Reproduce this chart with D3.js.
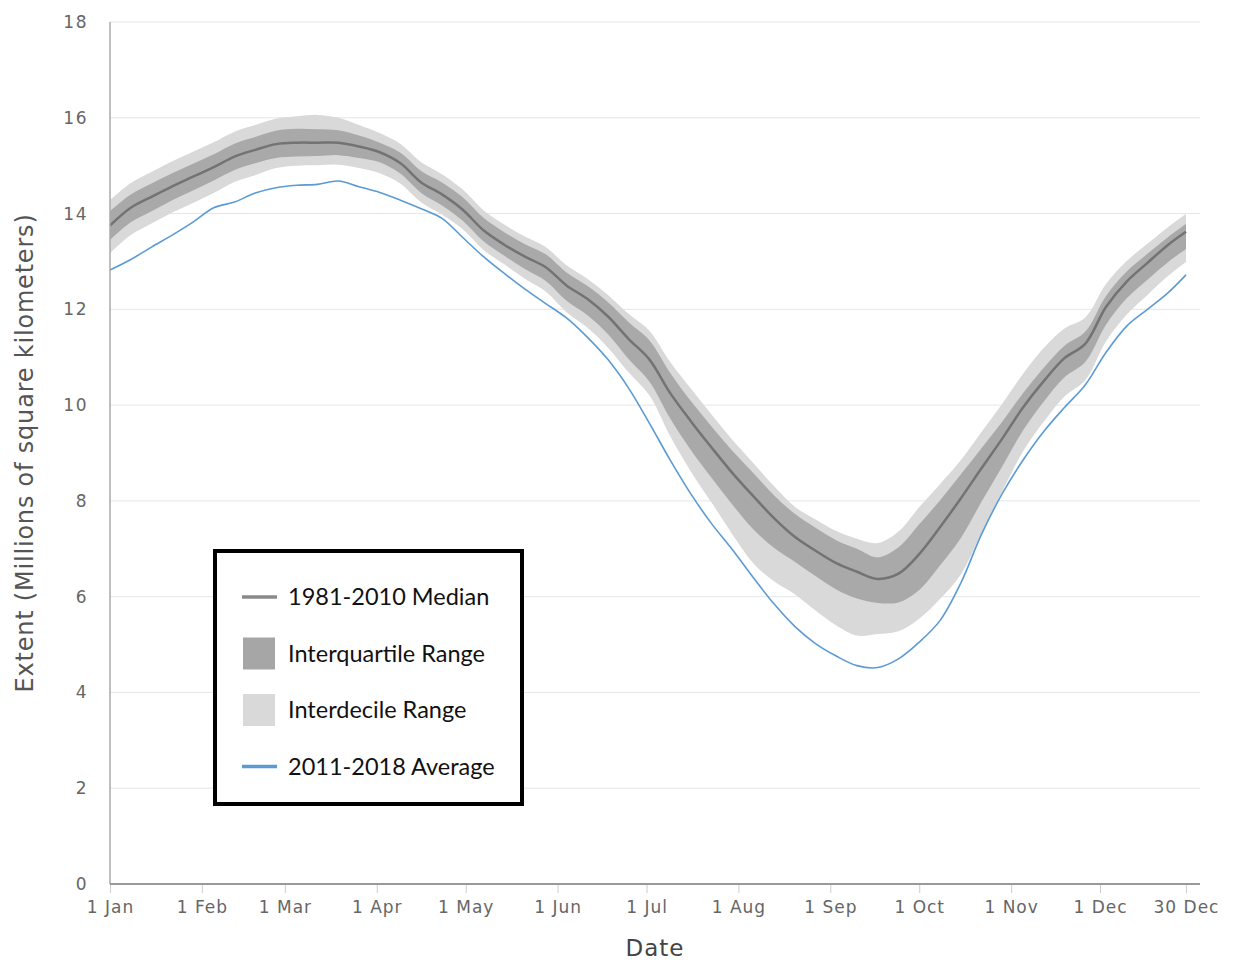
<!DOCTYPE html>
<html>
<head>
<meta charset="utf-8">
<script src="https://cdn.jsdelivr.net/npm/d3@7"></script>
<style>
  body { margin: 0; background: #fff; }
  svg { display: block; }
</style>
</head>
<body>
<svg id="chart" width="1235" height="962"></svg>
<script>
// day of year for each sample
const days = [1, 8, 15, 22, 29, 36, 43, 50, 57, 64, 71, 78, 85, 92, 99, 106, 113, 120, 127, 134,
  141, 148, 155, 162, 169, 176, 183, 190, 197, 204, 211, 218, 225, 232, 239, 246, 253, 260, 267,
  274, 281, 288, 295, 302, 309, 316, 323, 330, 337, 344, 351, 358, 364];

const median = [13.75, 14.12, 14.35, 14.57, 14.77, 14.97, 15.19, 15.33, 15.45, 15.48, 15.48, 15.48,
  15.40, 15.28, 15.05, 14.65, 14.40, 14.08, 13.65, 13.35, 13.10, 12.88, 12.50, 12.22, 11.85, 11.38,
  10.95, 10.25, 9.66, 9.11, 8.58, 8.10, 7.64, 7.25, 6.96, 6.70, 6.52, 6.37, 6.48, 6.89, 7.45, 8.05,
  8.68, 9.30, 9.95, 10.50, 10.98, 11.28, 12.05, 12.58, 12.97, 13.35, 13.62];

const q75 = [14.05, 14.40, 14.63, 14.84, 15.04, 15.24, 15.46, 15.60, 15.73, 15.77, 15.76, 15.74,
  15.63, 15.48, 15.27, 14.89, 14.65, 14.34, 13.91, 13.61, 13.36, 13.15, 12.77, 12.49, 12.15, 11.73,
  11.35, 10.67, 10.08, 9.55, 9.04, 8.58, 8.12, 7.73, 7.44, 7.18, 7.00, 6.82, 7.03, 7.51, 8.01, 8.55,
  9.10, 9.65, 10.25, 10.78, 11.24, 11.53, 12.28, 12.79, 13.16, 13.51, 13.78];

const q25 = [13.45, 13.82, 14.05, 14.28, 14.48, 14.69, 14.91, 15.05, 15.16, 15.19, 15.20, 15.22,
  15.16, 15.07, 14.83, 14.43, 14.17, 13.85, 13.42, 13.12, 12.84, 12.59, 12.18, 11.88, 11.48, 10.96,
  10.49, 9.72, 9.06, 8.48, 7.92, 7.41, 7.02, 6.73, 6.43, 6.15, 5.96, 5.87, 5.88, 6.14, 6.65, 7.22,
  7.98, 8.72, 9.47, 10.07, 10.58, 10.90, 11.68, 12.23, 12.62, 12.99, 13.26];

const d90 = [14.28, 14.64, 14.87, 15.09, 15.29, 15.49, 15.71, 15.85, 15.98, 16.03, 16.06, 16.00,
  15.85, 15.68, 15.45, 15.07, 14.82, 14.50, 14.07, 13.77, 13.52, 13.30, 12.92, 12.64, 12.30, 11.90,
  11.55, 10.90, 10.34, 9.80, 9.27, 8.79, 8.31, 7.88, 7.61, 7.37, 7.21, 7.12, 7.36, 7.87, 8.35, 8.85,
  9.44, 10.03, 10.65, 11.19, 11.60, 11.83, 12.53, 13.01, 13.37, 13.72, 13.99];

const d10 = [13.17, 13.55, 13.79, 14.02, 14.22, 14.43, 14.66, 14.80, 14.95, 15.00, 15.01, 15.02,
  14.95, 14.84, 14.62, 14.23, 13.98, 13.67, 13.24, 12.94, 12.64, 12.37, 11.94, 11.62, 11.20, 10.68,
  10.20, 9.35, 8.61, 7.96, 7.30, 6.70, 6.32, 6.05, 5.71, 5.40, 5.19, 5.22, 5.28, 5.54, 5.95, 6.46,
  7.33, 8.20, 9.03, 9.65, 10.18, 10.52, 11.33, 11.89, 12.30, 12.70, 12.99];

const avg1118 = [12.82, 13.04, 13.30, 13.55, 13.82, 14.12, 14.24, 14.43, 14.54, 14.59, 14.61, 14.68,
  14.56, 14.44, 14.28, 14.10, 13.90, 13.50, 13.10, 12.75, 12.42, 12.12, 11.82, 11.42, 10.95, 10.35,
  9.62, 8.85, 8.14, 7.52, 6.98, 6.40, 5.85, 5.38, 5.02, 4.76, 4.56, 4.52, 4.70, 5.05, 5.50, 6.28,
  7.30, 8.15, 8.85, 9.45, 9.95, 10.42, 11.10, 11.65, 12.00, 12.35, 12.72];

const tickDays = [1, 32, 60, 91, 121, 152, 182, 213, 244, 274, 305, 335, 364];
const tickLabels = ["1 Jan", "1 Feb", "1 Mar", "1 Apr", "1 May", "1 Jun", "1 Jul", "1 Aug",
  "1 Sep", "1 Oct", "1 Nov", "1 Dec", "30 Dec"];
const yTicks = [0, 2, 4, 6, 8, 10, 12, 14, 16, 18];

const legendItems = [
  { label: "1981-2010 Median", kind: "line", color: "#8a8a8a" },
  { label: "Interquartile Range", kind: "box", color: "#a6a6a6" },
  { label: "Interdecile Range", kind: "box", color: "#d9d9d9" },
  { label: "2011-2018 Average", kind: "line", color: "#5b9bd5" }
];

const svg = d3.select("#chart");
const plotLeft = 110, plotRight = 1200, plotTop = 22, plotBottom = 884;

const x = d3.scaleLinear().domain([1, 364]).range([plotLeft, 1186]);
const y = d3.scaleLinear().domain([0, 18]).range([plotBottom, plotTop]);

const rows = days.map((d, i) => ({
  day: d, med: median[i], q75: q75[i], q25: q25[i], d90: d90[i], d10: d10[i], avg: avg1118[i]
}));

// grid
svg.append("g")
  .selectAll("line")
  .data(yTicks.filter(v => v > 0))
  .join("line")
  .attr("x1", plotLeft).attr("x2", plotRight)
  .attr("y1", d => y(d)).attr("y2", d => y(d))
  .attr("stroke", "#e6e6e6")
  .attr("stroke-width", 1);

// y labels
svg.append("g")
  .selectAll("text")
  .data(yTicks)
  .join("text")
  .attr("x", 88)
  .attr("y", d => y(d) + 6)
  .attr("text-anchor", "end")
  .attr("font-family", "DejaVu Sans, sans-serif")
  .attr("font-size", 17)
  .attr("letter-spacing", 1.5)
  .attr("fill", "#666")
  .text(d => d);

const curve = d3.curveCatmullRom;

svg.append("path")
  .datum(rows)
  .attr("fill", "#d9d9d9")
  .attr("d", d3.area().x(d => x(d.day)).y0(d => y(d.d10)).y1(d => y(d.d90)).curve(curve));

svg.append("path")
  .datum(rows)
  .attr("fill", "#a9a9a9")
  .attr("d", d3.area().x(d => x(d.day)).y0(d => y(d.q25)).y1(d => y(d.q75)).curve(curve));

svg.append("path")
  .datum(rows)
  .attr("fill", "none")
  .attr("stroke", "#737373")
  .attr("stroke-width", 2.5)
  .attr("d", d3.line().x(d => x(d.day)).y(d => y(d.med)).curve(curve));

svg.append("path")
  .datum(rows)
  .attr("fill", "none")
  .attr("stroke", "#5b9bd5")
  .attr("stroke-width", 1.6)
  .attr("d", d3.line().x(d => x(d.day)).y(d => y(d.avg)).curve(curve));

// y axis line
svg.append("line")
  .attr("x1", plotLeft).attr("x2", plotLeft)
  .attr("y1", plotTop).attr("y2", plotBottom)
  .attr("stroke", "#aaa").attr("stroke-width", 1.5);

// x axis
const xAxis = svg.append("g")
  .attr("transform", "translate(0," + plotBottom + ")")
  .call(d3.axisBottom(x).tickValues(tickDays).tickFormat((d, i) => tickLabels[i]).tickSize(9).tickSizeOuter(0));
xAxis.select(".domain").remove();
xAxis.selectAll(".tick line").attr("stroke", "#ccc");
xAxis.selectAll(".tick text")
  .attr("y", 17)
  .attr("font-family", "DejaVu Sans, sans-serif")
  .attr("font-size", 17)
  .attr("letter-spacing", 1)
  .attr("fill", "#666");
svg.append("line")
  .attr("x1", plotLeft).attr("x2", plotRight)
  .attr("y1", plotBottom).attr("y2", plotBottom)
  .attr("stroke", "#999").attr("stroke-width", 2);

// titles
svg.append("text")
  .attr("transform", "translate(33,453) rotate(-90)")
  .attr("text-anchor", "middle")
  .attr("font-family", "DejaVu Sans, sans-serif")
  .attr("font-size", 24)
  .attr("letter-spacing", 0.8)
  .attr("fill", "#555")
  .text("Extent (Millions of square kilometers)");

svg.append("text")
  .attr("x", 655).attr("y", 956)
  .attr("text-anchor", "middle")
  .attr("font-family", "DejaVu Sans, sans-serif")
  .attr("font-size", 23)
  .attr("letter-spacing", 1)
  .attr("fill", "#444")
  .text("Date");

// legend
const lg = svg.append("g");
lg.append("rect")
  .attr("x", 215).attr("y", 551)
  .attr("width", 307).attr("height", 253)
  .attr("fill", "#fff")
  .attr("stroke", "#000")
  .attr("stroke-width", 4);

const lrow = lg.selectAll("g.item")
  .data(legendItems)
  .join("g")
  .attr("class", "item")
  .attr("transform", (d, i) => "translate(0," + (597 + i * 56.5) + ")");

lrow.filter(d => d.kind === "line").append("line")
  .attr("x1", 242).attr("x2", 277)
  .attr("y1", 0).attr("y2", 0)
  .attr("stroke", d => d.color)
  .attr("stroke-width", 3.5);

lrow.filter(d => d.kind === "box").append("rect")
  .attr("x", 243).attr("y", -16)
  .attr("width", 32).attr("height", 32)
  .attr("fill", d => d.color);

lrow.append("text")
  .attr("x", 288).attr("y", 8)
  .attr("font-family", "Lato, 'Open Sans', sans-serif")
  .attr("font-size", 23.5)
  .attr("fill", "#111")
  .text(d => d.label);
</script>
</body>
</html>
